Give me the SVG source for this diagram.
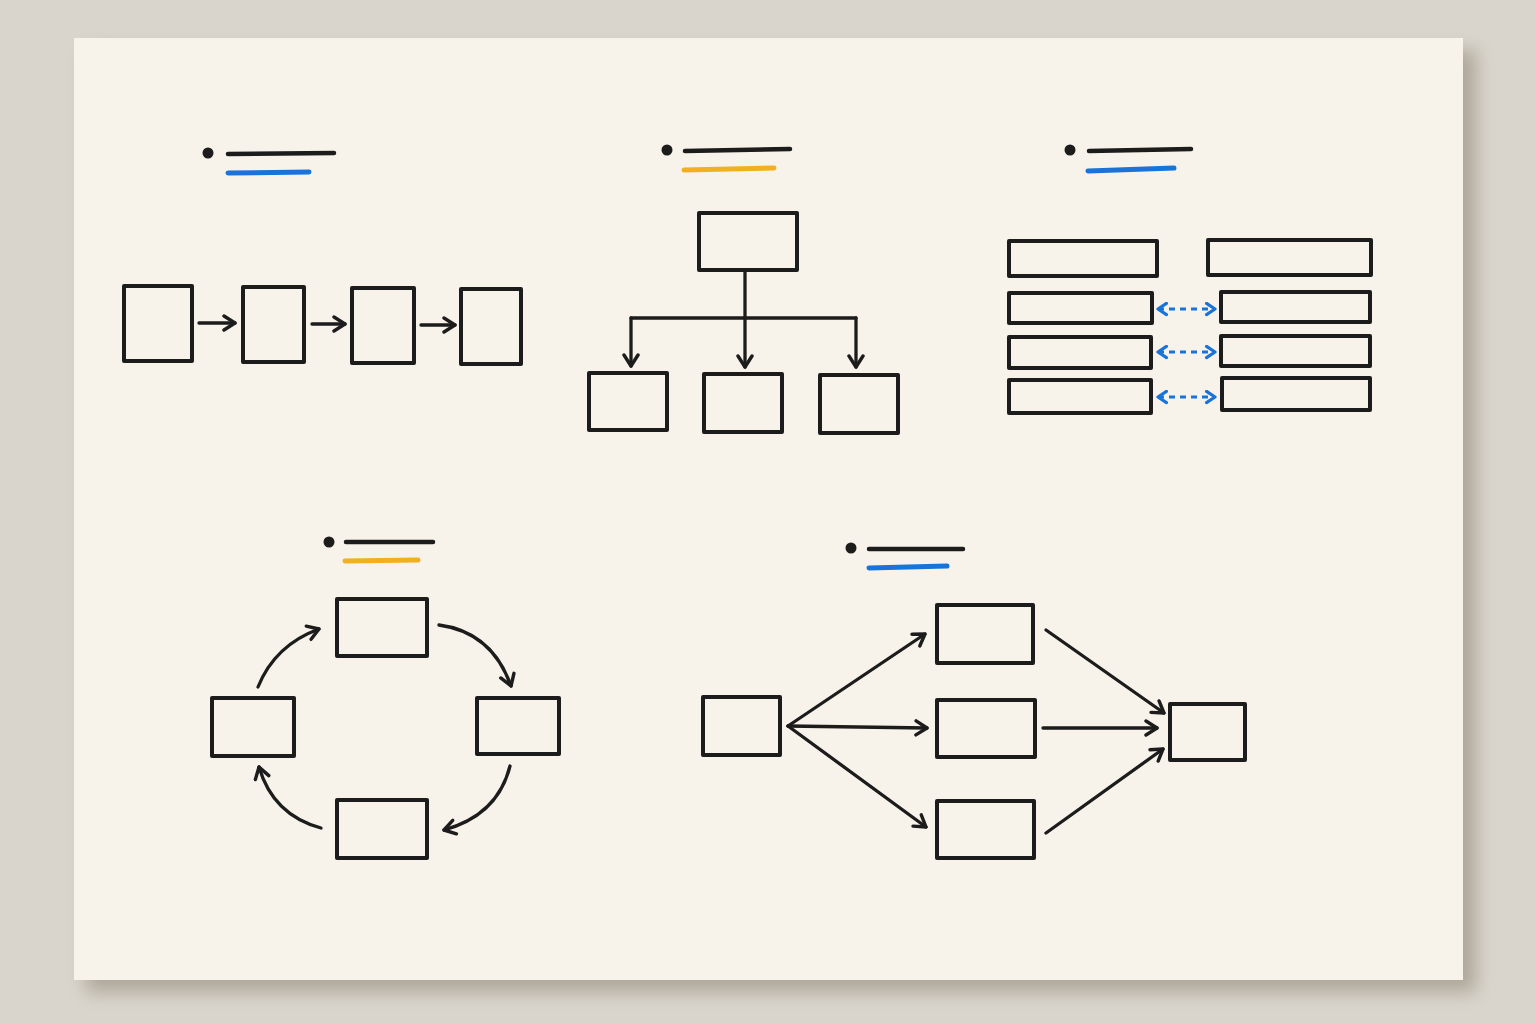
<svg xmlns="http://www.w3.org/2000/svg" width="1536" height="1024" viewBox="0 0 1536 1024">
<defs>
<filter id="blur" x="-10%" y="-10%" width="120%" height="120%"><feGaussianBlur stdDeviation="9"/></filter>
<marker id="ah" viewBox="0 0 18 18" markerWidth="18" markerHeight="18" refX="15" refY="9" orient="auto-start-reverse" markerUnits="userSpaceOnUse">
<path d="M4,2 L15,9 L4,16" fill="none" stroke="#1c1c1c" stroke-width="3.4" stroke-linecap="round" stroke-linejoin="round"/>
</marker>
<marker id="ahb" viewBox="0 0 16 16" markerWidth="15" markerHeight="15" refX="13" refY="8" orient="auto-start-reverse" markerUnits="userSpaceOnUse">
<path d="M4,2 L13,8 L4,14" fill="none" stroke="#1a73d9" stroke-width="3.4" stroke-linecap="round" stroke-linejoin="round"/>
</marker>
</defs>
<style>
.box{fill:none;stroke:#1c1c1c;stroke-width:4;stroke-linejoin:round}
.con{fill:none;stroke:#1c1c1c;stroke-width:3.3;stroke-linecap:round;marker-end:url(#ah)}
.ln{fill:none;stroke:#1c1c1c;stroke-width:3.3;stroke-linecap:round}
.dash{fill:none;stroke:#1a73d9;stroke-width:3.2;stroke-dasharray:6 5;marker-start:url(#ahb);marker-end:url(#ahb)}
.tb{stroke:#1c1c1c;stroke-width:4.5;stroke-linecap:round}
.tblue{stroke:#1a73d9;stroke-width:5;stroke-linecap:round}
.tyel{stroke:#f0b020;stroke-width:5;stroke-linecap:round}
.dot{fill:#1c1c1c}
</style>
<rect x="0" y="0" width="1536" height="1024" fill="#d9d5cc"/>
<rect x="86" y="50" width="1390" height="942" fill="#8a8270" opacity="0.55" filter="url(#blur)"/>
<rect x="74" y="38" width="1389" height="942" fill="#f7f3ea"/>

<g id="title1"><circle class="dot" cx="208" cy="153" r="5.5"/><line class="tb" x1="228" y1="154" x2="334" y2="153"/><line class="tblue" x1="228" y1="173" x2="309" y2="172"/></g>
<g id="title2"><circle class="dot" cx="667" cy="150" r="5.5"/><line class="tb" x1="685" y1="151" x2="790" y2="149"/><line class="tyel" x1="684" y1="170" x2="774" y2="168"/></g>
<g id="title3"><circle class="dot" cx="1070" cy="150" r="5.5"/><line class="tb" x1="1089" y1="151" x2="1191" y2="149"/><line class="tblue" x1="1088" y1="171" x2="1174" y2="168"/></g>
<g id="title4"><circle class="dot" cx="329" cy="542" r="5.5"/><line class="tb" x1="346" y1="542" x2="433" y2="542"/><line class="tyel" x1="345" y1="561" x2="418" y2="560"/></g>
<g id="title5"><circle class="dot" cx="851" cy="548" r="5.5"/><line class="tb" x1="869" y1="549" x2="963" y2="549"/><line class="tblue" x1="869" y1="568" x2="947" y2="566"/></g>

<g id="p1-a"><rect class="box" x="124" y="286" width="68" height="75"/></g>
<g id="p1-b"><rect class="box" x="243" y="287" width="61" height="75"/></g>
<g id="p1-c"><rect class="box" x="352" y="288" width="62" height="75"/></g>
<g id="p1-d"><rect class="box" x="461" y="289" width="60" height="75"/></g>

<g id="p2-root"><rect class="box" x="699" y="213" width="98" height="57"/></g>
<g id="p2-a"><rect class="box" x="589" y="373" width="78" height="57"/></g>
<g id="p2-b"><rect class="box" x="704" y="374" width="78" height="58"/></g>
<g id="p2-c"><rect class="box" x="820" y="375" width="78" height="58"/></g>

<g id="p3-h1"><rect class="box" x="1009" y="241" width="148" height="35"/></g>
<g id="p3-h2"><rect class="box" x="1208" y="240" width="163" height="35"/></g>
<g id="p3-l1"><rect class="box" x="1009" y="293" width="143" height="30"/></g>
<g id="p3-r1"><rect class="box" x="1221" y="292" width="149" height="30"/></g>
<g id="p3-l2"><rect class="box" x="1009" y="337" width="142" height="31"/></g>
<g id="p3-r2"><rect class="box" x="1221" y="336" width="149" height="30"/></g>
<g id="p3-l3"><rect class="box" x="1009" y="380" width="142" height="33"/></g>
<g id="p3-r3"><rect class="box" x="1222" y="378" width="148" height="32"/></g>

<g id="p4-top"><rect class="box" x="337" y="599" width="90" height="57"/></g>
<g id="p4-left"><rect class="box" x="212" y="698" width="82" height="58"/></g>
<g id="p4-right"><rect class="box" x="477" y="698" width="82" height="56"/></g>
<g id="p4-bottom"><rect class="box" x="337" y="800" width="90" height="58"/></g>

<g id="p5-src"><rect class="box" x="703" y="697" width="77" height="58"/></g>
<g id="p5-m1"><rect class="box" x="937" y="605" width="96" height="58"/></g>
<g id="p5-m2"><rect class="box" x="937" y="700" width="98" height="57"/></g>
<g id="p5-m3"><rect class="box" x="937" y="801" width="97" height="57"/></g>
<g id="p5-sink"><rect class="box" x="1170" y="704" width="75" height="56"/></g>

<g id="connectors">
<line class="con" x1="199" y1="323" x2="235" y2="323"/>
<line class="con" x1="312" y1="324" x2="345" y2="324"/>
<line class="con" x1="421" y1="325" x2="455" y2="325"/>

<line class="ln" x1="745" y1="271" x2="745" y2="318"/>
<line class="ln" x1="631" y1="318" x2="856" y2="318"/>
<line class="con" x1="631" y1="318" x2="631" y2="366"/>
<line class="con" x1="745" y1="318" x2="745" y2="367"/>
<line class="con" x1="856" y1="318" x2="856" y2="367"/>

<line class="dash" x1="1158" y1="309" x2="1215" y2="309"/>
<line class="dash" x1="1158" y1="352" x2="1215" y2="352"/>
<line class="dash" x1="1158" y1="397" x2="1215" y2="397"/>

<path class="con" d="M439,625 Q492,632 511,686"/>
<path class="con" d="M510,766 Q498,815 444,830"/>
<path class="con" d="M321,828 Q273,815 259,767"/>
<path class="con" d="M258,687 Q275,645 319,629"/>

<line class="con" x1="788" y1="726" x2="925" y2="634"/>
<line class="con" x1="788" y1="726" x2="927" y2="728"/>
<line class="con" x1="788" y1="726" x2="926" y2="827"/>
<line class="con" x1="1046" y1="630" x2="1164" y2="713"/>
<line class="con" x1="1043" y1="728" x2="1157" y2="728"/>
<line class="con" x1="1046" y1="833" x2="1163" y2="749"/>
</g>
</svg>
